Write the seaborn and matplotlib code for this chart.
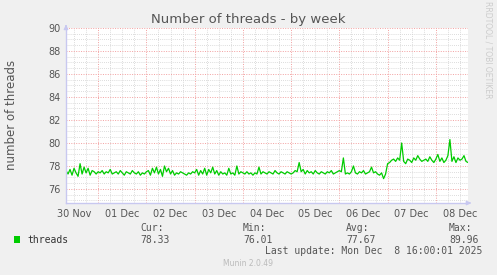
import matplotlib
matplotlib.use("Agg")
import matplotlib.pyplot as plt
import matplotlib.dates as mdates
from matplotlib.ticker import MultipleLocator, FuncFormatter, NullFormatter
import seaborn as sns
import pandas as pd
import numpy as np

sns.set_theme(style="white")
plt.rcParams['font.family'] = ['DejaVu Sans']

start_time = "2025-11-30 08:00"
end_time = "2025-12-08 16:00"
threads = [
    77.6, 77.3, 77.7, 77.2, 77.8, 77.4, 77.1, 78.2, 77.3, 77.9, 77.4, 77.8, 77.2, 77.6, 77.5, 77.3, 77.5,
    77.4, 77.6, 77.3, 77.5, 77.4, 77.7, 77.3, 77.4, 77.5, 77.3, 77.6, 77.4, 77.2, 77.5, 77.4, 77.3, 77.6, 77.4, 77.3, 77.5, 77.2, 77.4, 77.3, 77.5,
    77.6, 77.2, 77.8, 77.4, 77.9, 77.3, 77.7, 77.1, 78.0, 77.5, 77.8, 77.3, 77.6, 77.2, 77.4, 77.3, 77.5, 77.4, 77.3, 77.2, 77.4, 77.3, 77.5, 77.4,
    77.7, 77.2, 77.6, 77.3, 77.8, 77.2, 77.7, 77.4, 77.9, 77.3, 77.6, 77.2, 77.5, 77.3, 77.4, 77.2, 77.8, 77.3, 77.4, 77.2, 78.0, 77.3, 77.5, 77.4,
    77.3, 77.5, 77.3, 77.4, 77.2, 77.4, 77.3, 77.9, 77.3, 77.5, 77.4, 77.3, 77.5, 77.4, 77.3, 77.6, 77.4, 77.3, 77.5, 77.4, 77.3, 77.5, 77.4, 77.3,
    77.4, 77.6, 77.5, 78.3, 77.5, 77.7, 77.3, 77.6, 77.4, 77.5, 77.3, 77.6, 77.4, 77.3, 77.5, 77.4, 77.3, 77.5, 77.4, 77.6, 77.3, 77.4, 77.5, 77.6,
    77.5, 78.7, 77.3, 77.4, 77.3, 77.5, 78.0, 77.4, 77.3, 77.5, 77.4, 77.6, 77.3, 77.4, 77.5, 77.9, 77.4, 77.5, 77.3, 77.2, 77.4, 76.9, 77.3, 78.2,
    78.3, 78.5, 78.6, 78.4, 78.7, 78.5, 80.0, 78.4, 78.2, 78.6, 78.5, 78.3, 78.7, 78.5, 78.9, 78.6, 78.4, 78.5, 78.6, 78.4,
    78.8, 78.5, 78.3, 78.6, 79.0, 78.4, 78.7, 78.3, 78.5, 78.9, 80.3, 78.4, 78.8, 78.3, 78.7, 78.5, 78.6, 78.9, 78.4, 78.3,
]
legend_labels = ["Cur:", "Min:", "Avg:", "Max:"]
legend_values = ["78.33", "76.01", "77.67", "89.96"]
title = "Number of threads - by week"
ylabel = "number of threads"
series_name = "threads"
last_update = "Last update: Mon Dec  8 16:00:01 2025"
footer = "Munin 2.0.49"
side_text = "RRDTOOL / TOBI OETIKER"

times = pd.date_range(start_time, end_time, periods=len(threads))
df = pd.DataFrame({"time": times, "threads": threads})

W, H = 497, 275
fig = plt.figure(figsize=(W / 100, H / 100), dpi=100, facecolor="#F0F0F0")
ax = fig.add_axes([66 / W, 1 - 203 / H, 402 / W, 175 / H])
ax.set_facecolor("white")

sns.lineplot(data=df, x="time", y="threads", ax=ax, color="#00CC00", linewidth=0.9)

ax.set_xlim(pd.Timestamp(start_time), pd.Timestamp(end_time))
ax.set_ylim(74.78, 90)

# grid
ax.xaxis.set_major_locator(mdates.DayLocator())
ax.xaxis.set_minor_locator(mdates.HourLocator(byhour=[6, 12, 18]))
ax.xaxis.set_major_formatter(NullFormatter())
ax.xaxis.set_minor_formatter(FuncFormatter(
    lambda v, p: mdates.num2date(v).strftime("%d %b") if mdates.num2date(v).hour == 12 else ""))
ax.yaxis.set_major_locator(MultipleLocator(2))
ax.yaxis.set_minor_locator(MultipleLocator(0.5))

ax.grid(which="minor", color="#D0D0D0", linestyle=(0, (1, 1.5)), linewidth=0.6)
ax.grid(which="major", color="#F2A0A0", linestyle=(0, (1, 1.5)), linewidth=0.7)
ax.set_axisbelow(True)

ax.tick_params(axis="x", which="major", length=2, color="#FF9999", width=0.6)
ax.tick_params(axis="x", which="minor", length=0, labelsize=7, labelcolor="#555555", pad=4)
ax.tick_params(axis="y", which="major", length=2, color="#FF9999", width=0.6,
               labelsize=7, labelcolor="#555555", pad=2)
ax.tick_params(axis="y", which="minor", length=0)

for s in ["top", "right"]:
    ax.spines[s].set_visible(False)
for s in ["left", "bottom"]:
    ax.spines[s].set_color("#C8C8F0")
    ax.spines[s].set_linewidth(1.0)

ax.set_xlabel("")
ax.set_ylabel("")

# arrows at axis ends
ax.annotate("", xy=(0, 1.035), xytext=(0, 0.99), xycoords="axes fraction",
            arrowprops=dict(arrowstyle="-|>", color="#C8C8F0", lw=1.0, mutation_scale=6),
            annotation_clip=False)
ax.annotate("", xy=(1.015, 0), xytext=(0.995, 0), xycoords="axes fraction",
            arrowprops=dict(arrowstyle="-|>", color="#C8C8F0", lw=1.0, mutation_scale=6),
            annotation_clip=False)

def px(x, y):
    return x / W, 1 - y / H

fig.text(*px(248, 19), title, ha="center", va="center", fontsize=9.5, color="#555555")
fig.text(*px(12, 115), ylabel, ha="center", va="center", rotation=90, fontsize=8.5, color="#555555")
fig.text(*px(488, 50), side_text, ha="center", va="center", rotation=270,
         fontsize=5.5, color="#CCCCCC")

mono = "DejaVu Sans Mono"
fig.patches.append(plt.Rectangle(px(14, 243), 6 / W, 7 / H, transform=fig.transFigure,
                                 facecolor="#00CC00", edgecolor="none"))
fig.text(*px(27, 240), series_name, ha="left", va="center", fontsize=7, family=mono, color="#333333")
right_edges = [170, 273, 376, 479]
for lab, val, xr in zip(legend_labels, legend_values, right_edges):
    fig.text(*px(xr - 30, 228), lab, ha="left", va="center", fontsize=7,
             family=mono, color="#555555")
    fig.text(*px(xr, 240), val, ha="right", va="center", fontsize=7, family=mono, color="#555555")
fig.text(*px(482, 251), last_update, ha="right", va="center", fontsize=7, family=mono, color="#555555")
fig.text(*px(248, 264), footer, ha="center", va="center", fontsize=5.5, color="#BBBBBB")

fig.savefig("out.png", dpi=100, facecolor=fig.get_facecolor())
